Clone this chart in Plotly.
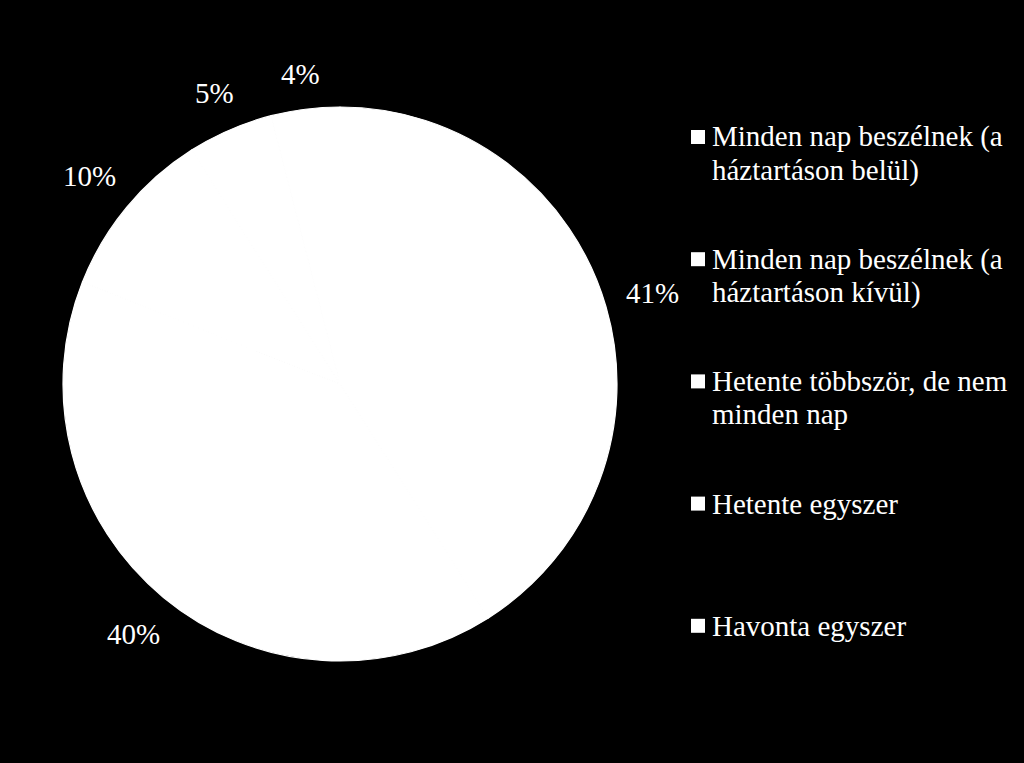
import math
import plotly.graph_objects as go

labels = [
    "Minden nap beszélnek (a<br>háztartáson belül)",
    "Minden nap beszélnek (a<br>háztartáson kívül)",
    "Hetente többször, de nem<br>minden nap",
    "Hetente egyszer",
    "Havonta egyszer",
]
values = [41, 40, 10, 5, 4]

W, H = 1024, 763
FONT = "Liberation Serif"
FS = 29
CX, CY, R = 340, 384, 277

fig = go.Figure()
fig.add_trace(go.Pie(
    labels=labels,
    values=values,
    sort=False,
    direction="clockwise",
    rotation=0,
    marker=dict(colors=["#ffffff"] * len(values), line=dict(width=1.2, color="#ffffff")),
    textinfo="none",
    showlegend=False,
    hoverinfo="label+percent",
    domain=dict(x=[(CX - R) / W, (CX + R) / W],
                y=[(H - CY - R) / H, (H - CY + R) / H]),
))

# percentage labels placed outside each slice (angles from cumulative values)
total = sum(values)
cum = 0
gap = 19
for v in values:
    mid = (cum + v / 2) / total * 2 * math.pi
    cum += v
    dx, dy = math.sin(mid), -math.cos(mid)
    txt = f"{v}%"
    tw = FS * (0.5 * (len(txt) - 1) + 0.833)
    th = FS * 1.0
    ext = abs(dx) * tw / 2 + abs(dy) * th / 2
    rr = R + gap + ext
    px, py = CX + dx * rr, CY + dy * rr
    fig.add_annotation(text=txt, xref="paper", yref="paper",
                       x=px / W, y=1 - py / H, xanchor="center", yanchor="middle",
                       showarrow=False,
                       font=dict(family=FONT, size=FS, color="#ffffff"))

# legend drawn as shapes + annotations
first_y = 137
step = 122.2
line_h = 33
for i, lab in enumerate(labels):
    yc = first_y + i * step
    fig.add_shape(type="rect", xref="paper", yref="paper",
                  x0=691 / W, x1=705 / W,
                  y0=1 - (yc + 7) / H, y1=1 - (yc - 7) / H,
                  fillcolor="#ffffff", line=dict(width=0))
    for j, part in enumerate(lab.split("<br>")):
        fig.add_annotation(text=part, xref="paper", yref="paper",
                           x=710 / W, y=1 - (yc + j * line_h) / H,
                           xanchor="left", yanchor="middle", showarrow=False,
                           font=dict(family=FONT, size=FS, color="#ffffff"))

fig.update_layout(
    width=W, height=H,
    paper_bgcolor="#000000", plot_bgcolor="#000000",
    margin=dict(l=0, r=0, t=0, b=0),
)
fig.write_html(
    "out.html",
    config={"displayModeBar": False},
    post_script="document.body.style.margin='0';document.body.style.background='#000';",
)
